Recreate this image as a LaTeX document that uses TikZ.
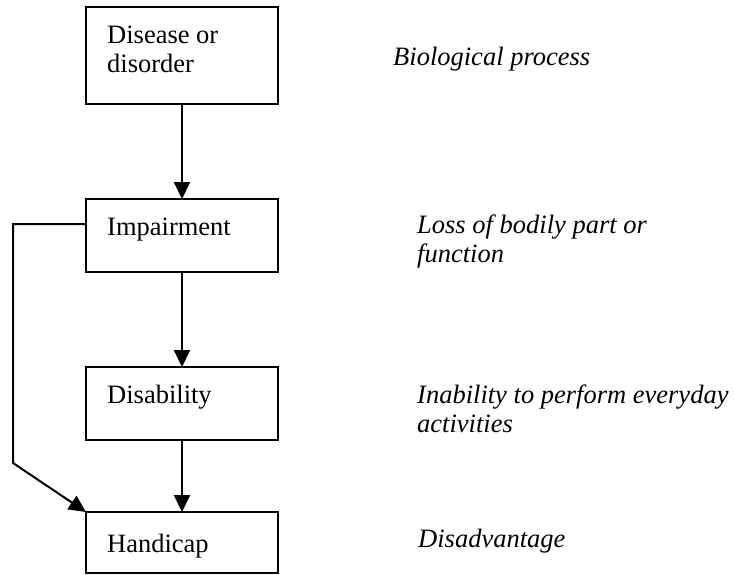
\documentclass[tikz,border=0pt]{standalone}
\usepackage{fontspec}
\setmainfont{Liberation Serif}
\usetikzlibrary{arrows.meta,calc}
\begin{document}
\begin{tikzpicture}[x=1pt,y=-1pt,
  box/.style={draw,line width=2pt,minimum width=192pt,inner sep=0pt,outer sep=0pt},
  lbl/.style={anchor=base west,inner sep=0pt,font=\fontsize{26.5}{29.5}\selectfont},
  note/.style={lbl,font=\fontsize{26.5}{29.5}\selectfont\itshape},
  arr/.style={line width=2pt,-{Triangle[width=16pt,length=17pt]}}]
\useasboundingbox (0,0) rectangle (734,574);

% stages
\node[box,minimum height=97pt,anchor=north west] (dis) at (86,7) {};
\node[box,minimum height=73pt,anchor=north west] (imp) at (86,199) {};
\node[box,minimum height=73pt,anchor=north west] (dab) at (86,367) {};
\node[box,minimum height=61pt,anchor=north west] (hand) at (86,512) {};

% stage names
\node[lbl] (tdis) at (107,43) {\begin{tabular}[t]{@{}l@{}}Disease or\\disorder\end{tabular}};
\node[lbl] (timp) at (107,235) {Impairment};
\node[lbl] (tdab) at (107,403) {Disability};
\node[lbl] (thand) at (107,552) {Handicap};

% descriptions
\node[note] (ndis) at (393,65) {Biological process};
\node[note] (nimp) at (417,233) {\begin{tabular}[t]{@{}l@{}}Loss of bodily part or\\function\end{tabular}};
\node[note] (ndab) at (417,403) {\begin{tabular}[t]{@{}l@{}}Inability to perform everyday\\activities\end{tabular}};
\node[note] (nhand) at (418,547) {Disadvantage};

% main chain
\draw[arr] (dis.south) -- (imp.north);
\draw[arr] (imp.south) -- (dab.north);
\draw[arr] (dab.south) -- (hand.north);

% bypass from impairment to handicap
\coordinate (b1) at (13,224);
\coordinate (b2) at (13,463);
\draw[arr,line join=miter] ($(imp.north west)+(0,25)$) -- (b1) -- (b2) -- (hand.north west);
\end{tikzpicture}
\end{document}
